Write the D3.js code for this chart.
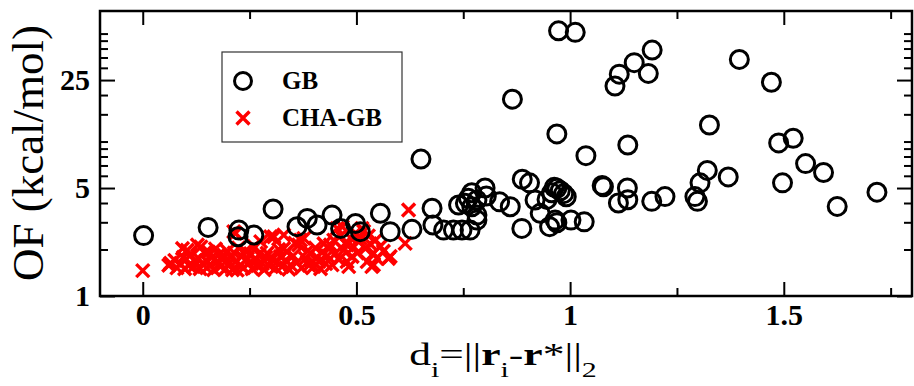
<!DOCTYPE html>
<html>
<head>
<meta charset="utf-8">
<script src="https://cdn.jsdelivr.net/npm/d3@7"></script>
<style>
  body { margin: 0; background: #fff; }
  svg { display: block; font-family: "Liberation Serif", "Times New Roman", serif; }
</style>
</head>
<body>
<svg width="914" height="386"></svg>
<script>
// GB (circles): distance d_i and objective function OF
var gbD = [0.002, 0.153, 0.225, 0.223, 0.260, 0.305, 0.361, 0.385, 0.408, 0.443, 0.463, 0.498,
  0.509, 0.556, 0.579, 0.630, 0.651, 0.677, 0.679, 0.704, 0.727, 0.747, 0.739, 0.755, 0.762,
  0.770, 0.782, 0.782, 0.766, 0.770, 0.782, 0.801, 0.804, 0.835, 0.860, 0.865, 0.887, 0.888,
  0.905, 0.918, 0.930, 0.946, 0.952, 0.957, 0.963, 0.965, 0.969, 0.969, 0.977, 0.985, 0.991,
  0.969, 0.973, 1.002, 1.012, 1.033, 1.037, 1.075, 1.078, 1.105, 1.113, 1.115, 1.134, 1.135,
  1.135, 1.150, 1.183, 1.191, 1.192, 1.222, 1.292, 1.298, 1.304, 1.321, 1.326, 1.370, 1.396,
  1.471, 1.488, 1.497, 1.522, 1.551, 1.593, 1.625, 1.718];
var gbOF = [2.46, 2.78, 2.67, 2.42, 2.48, 3.66, 2.81, 3.18, 2.88, 3.34, 2.74, 2.95,
  2.61, 3.43, 2.61, 2.70, 7.7, 3.70, 2.88, 2.67, 2.67, 2.67, 3.88, 3.98, 4.29,
  4.66, 4.18, 3.10, 2.67, 3.78, 3.34, 5.0, 4.44, 4.07, 3.78, 18.8, 2.74, 5.7,
  5.4, 4.18, 3.43, 4.22, 2.81, 4.66, 5.05, 3.10, 2.98, 4.98, 4.80, 4.6, 4.39,
  11.2, 52.1, 3.10, 50.9, 3.02, 8.1, 5.2, 5.1, 22.9, 4.0, 27.3, 5.0, 4.2,
  9.5, 32.4, 27.6, 4.1, 39.1, 4.4, 4.4, 4.1, 5.4, 6.5, 12.8, 5.9, 34.0,
  24.2, 9.8, 5.4, 10.5, 7.2, 6.3, 3.8, 4.7];

// CHA-GB (crosses)
var chaD = [0.0,
  0.065, 0.061, 0.075, 0.080, 0.088, 0.093, 0.095, 0.100, 0.104, 0.098,
  0.108, 0.112, 0.119, 0.122, 0.128, 0.130, 0.134, 0.136, 0.140, 0.145, 0.148, 0.150,
  0.154, 0.158, 0.162, 0.166, 0.170, 0.174, 0.178, 0.182, 0.186, 0.190, 0.194, 0.198,
  0.202, 0.206, 0.210, 0.213, 0.217, 0.214, 0.218, 0.221, 0.224, 0.228, 0.232, 0.236, 0.240, 0.245, 0.248,
  0.252, 0.256, 0.260, 0.264, 0.268, 0.272, 0.276, 0.280, 0.284, 0.288, 0.291, 0.295, 0.299,
  0.303, 0.307, 0.311, 0.315, 0.318, 0.322, 0.326, 0.330, 0.330, 0.334, 0.338, 0.342, 0.346,
  0.352, 0.356, 0.360, 0.365, 0.369, 0.372, 0.377, 0.381, 0.385, 0.389, 0.393, 0.397, 0.400,
  0.404, 0.408, 0.412, 0.416, 0.420, 0.424, 0.428, 0.432, 0.436, 0.439, 0.443, 0.447, 0.451,
  0.455, 0.459, 0.463, 0.467, 0.470, 0.474, 0.478, 0.478, 0.482, 0.486, 0.490, 0.494, 0.498,
  0.502, 0.505, 0.509, 0.513, 0.517, 0.521, 0.525, 0.528, 0.532, 0.536, 0.540, 0.540, 0.545, 0.548,
  0.556, 0.563, 0.575, 0.579, 0.614, 0.622];
var chaOF = [1.46,
  1.63, 1.58, 1.70, 1.52, 1.62, 2.03, 1.78, 1.71, 1.98, 1.50,
  1.58, 1.85, 1.55, 1.68, 2.14, 1.76, 1.50, 2.08, 1.62, 1.90, 1.70, 1.52,
  1.93, 1.60, 1.78, 1.48, 2.02, 1.67, 1.85, 1.55, 1.72, 1.84, 1.50, 1.95,
  1.62, 1.78, 1.48, 2.61, 2.55, 1.90, 1.68, 1.47, 2.05, 1.58, 1.80, 1.52, 1.95, 1.75, 1.62,
  1.88, 1.50, 2.10, 1.70, 1.57, 1.85, 2.25, 1.62, 1.48, 1.78, 1.89, 1.58, 2.42,
  1.72, 2.42, 1.52, 1.67, 2.00, 1.80, 1.55, 2.03, 2.48, 1.70, 1.93, 1.49, 1.59,
  1.82, 2.20, 1.64, 2.14, 2.30, 1.52, 2.36, 1.75, 1.95, 1.58, 1.89, 1.68, 1.55,
  2.05, 1.78, 1.67, 1.50, 1.92, 2.18, 1.62, 1.82, 2.02, 2.14, 1.59, 2.30, 1.89,
  2.74, 1.72, 2.45, 2.81, 1.98, 2.20, 2.14, 1.67, 1.55, 2.38, 1.80, 2.08, 2.55,
  1.90, 2.28, 2.36, 2.74, 2.62, 2.03, 1.67, 2.45, 2.18, 1.55, 1.89, 1.59, 2.30, 1.75,
  2.10, 1.95, 1.75, 1.80, 2.19, 3.6];

var xMajor = [0, 0.5, 1, 1.5];
var xMinor = [0.25, 0.75, 1.25, 1.75];
var yMajor = [1, 5, 25];
var yMinor = [2, 3, 4, 6, 7, 8, 9, 10, 15, 20, 30, 35, 40, 45, 50];
var seriesNames = ["GB", "CHA-GB"];

var pLeft = 100, pRight = 912, pTop = 11, pBottom = 296;
var svg = d3.select("svg");

var x = d3.scaleLinear().domain([-0.1, 1.8]).range([pLeft, pRight]);
var y = d3.scaleLog().domain([1, 70]).range([pBottom, pTop]);

var gb = gbD.map(function(d, i) { return {x: d, y: gbOF[i]}; });
var cha = chaD.map(function(d, i) { return {x: d, y: chaOF[i]}; });

// axes, ticks pointing inwards on all four sides
function addAxis(axis, tx, ty, labels) {
  var g = svg.append("g").attr("transform", "translate(" + tx + "," + ty + ")").call(axis);
  g.select(".domain").remove();
  g.attr("font-family", null).attr("font-size", null);
  g.selectAll(".tick line").attr("stroke", "#000").attr("stroke-width", 2);
  if (!labels) g.selectAll(".tick text").remove();
  else g.selectAll(".tick text").attr("fill", "#000").attr("font-size", 30)
    .attr("font-weight", "bold");
  return g;
}
addAxis(d3.axisBottom(x).tickValues(xMajor).tickSize(-14).tickPadding(8).tickFormat(d3.format("")), 0, pBottom, true);
addAxis(d3.axisBottom(x).tickValues(xMinor).tickSize(-8), 0, pBottom, false);
addAxis(d3.axisTop(x).tickValues(xMajor).tickSize(-14), 0, pTop, false);
addAxis(d3.axisTop(x).tickValues(xMinor).tickSize(-8), 0, pTop, false);
addAxis(d3.axisLeft(y).tickValues(yMajor).tickSize(-15).tickPadding(10).tickFormat(d3.format("d")), pLeft, 0, true);
addAxis(d3.axisLeft(y).tickValues(yMinor).tickSize(-8), pLeft, 0, false);
addAxis(d3.axisRight(y).tickValues(yMajor).tickSize(-15), pRight, 0, false);
addAxis(d3.axisRight(y).tickValues(yMinor).tickSize(-8), pRight, 0, false);

svg.append("rect").attr("x", pLeft).attr("y", pTop)
  .attr("width", pRight - pLeft).attr("height", pBottom - pTop)
  .attr("fill", "none").attr("stroke", "#000").attr("stroke-width", 2.5);

// crosses first, circles on top
var cs = 6.5;
function cross(sel) {
  sel.append("path")
    .attr("d", "M" + (-cs) + "," + (-cs) + "L" + cs + "," + cs + "M" + (-cs) + "," + cs + "L" + cs + "," + (-cs))
    .attr("stroke", "#ff0000").attr("stroke-width", 3.4).attr("fill", "none");
}
svg.append("g").selectAll("g").data(cha).join("g")
  .attr("transform", function(d) { return "translate(" + x(d.x) + "," + y(d.y) + ")"; })
  .call(cross);

svg.append("g").selectAll("circle").data(gb).join("circle")
  .attr("cx", function(d) { return x(d.x); })
  .attr("cy", function(d) { return y(d.y); })
  .attr("r", 9).attr("fill", "none").attr("stroke", "#000").attr("stroke-width", 3);

// legend
var lg = svg.append("g");
lg.append("rect").attr("x", 222).attr("y", 52).attr("width", 180).attr("height", 90)
  .attr("fill", "#fff").attr("stroke", "#333").attr("stroke-width", 1.2);
lg.append("circle").attr("cx", 243).attr("cy", 81).attr("r", 8.5)
  .attr("fill", "none").attr("stroke", "#000").attr("stroke-width", 3);
lg.append("g").attr("transform", "translate(243,118)").call(cross);
lg.selectAll("text").data(seriesNames).join("text")
  .attr("x", 282).attr("y", function(d, i) { return 89 + i * 37; })
  .attr("font-size", 25).attr("font-weight", "bold").text(function(d) { return d; });

// axis titles
svg.append("text").attr("transform", "translate(43,153) rotate(-90)")
  .attr("text-anchor", "middle").attr("font-size", 45).text("OF (kcal/mol)");

var xt = svg.append("text").attr("transform", "translate(503,365) scale(1.36,1)")
  .attr("text-anchor", "middle").attr("font-size", 32);
xt.append("tspan").text("d");
xt.append("tspan").attr("font-size", 22).attr("dy", 12).text("i");
xt.append("tspan").attr("dy", -12).text("=||");
xt.append("tspan").attr("font-weight", "bold").text("r");
xt.append("tspan").attr("font-size", 22).attr("dy", 12).text("i");
xt.append("tspan").attr("dy", -12).text("-");
xt.append("tspan").attr("font-weight", "bold").text("r");
xt.append("tspan").text("*||");
xt.append("tspan").attr("font-size", 22).attr("dy", 12).text("2");
</script>
</body>
</html>
